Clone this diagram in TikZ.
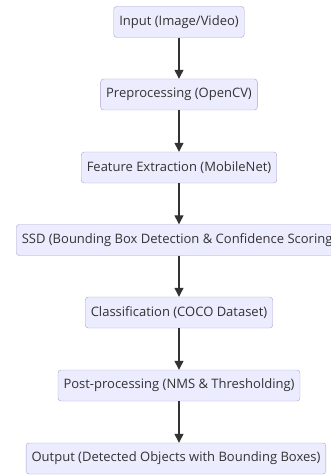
\documentclass[tikz,border=0pt]{standalone}
\usepackage{fontspec}
\setmainfont{Open Sans}
\usetikzlibrary{arrows.meta}
\definecolor{boxfill}{HTML}{ECECFF}
\definecolor{boxline}{HTML}{A9A1CF}
\definecolor{arrowline}{HTML}{333333}

\begin{document}
\begin{tikzpicture}
[%%%%%%%%%%%%%%%%%%%%%%%%%%%%%%
x=1pt,y=-1pt,
stepbox/.style={rectangle,draw=boxline,fill=boxfill,rounded corners=3pt,
  minimum height=31pt,inner xsep=5.5pt,font=\fontsize{13}{15}\selectfont,text=black!80},
flow/.style={-{Triangle[length=9pt,width=9pt]},draw=arrowline,line width=1.3pt},
]%%%%%%%%%%%%%%%%%%%%%%%%%%%%%%
\useasboundingbox (0,0) rectangle (331,476);

\node[stepbox] (input) at (179,22){Input (Image/Video)};
\node[stepbox] (prep) at (179,94.5){Preprocessing (OpenCV)};
\node[stepbox] (feat) at (179,167.5){Feature Extraction (MobileNet)};
\node[stepbox] (ssd) at (179,240){SSD (Bounding Box Detection \& Confidence Scoring)};
\node[stepbox] (cls) at (179,312.5){Classification (COCO Dataset)};
\node[stepbox] (post) at (179,385.5){Post-processing (NMS \& Thresholding)};
\node[stepbox] (out) at (176,458.5){Output (Detected Objects with Bounding Boxes)};

\foreach \a/\b in {input/prep,prep/feat,feat/ssd,ssd/cls,cls/post}
\draw[flow] (\a) -- (\b);
\draw[flow] (post) -- (post |- out.north);
\end{tikzpicture}
\end{document}
